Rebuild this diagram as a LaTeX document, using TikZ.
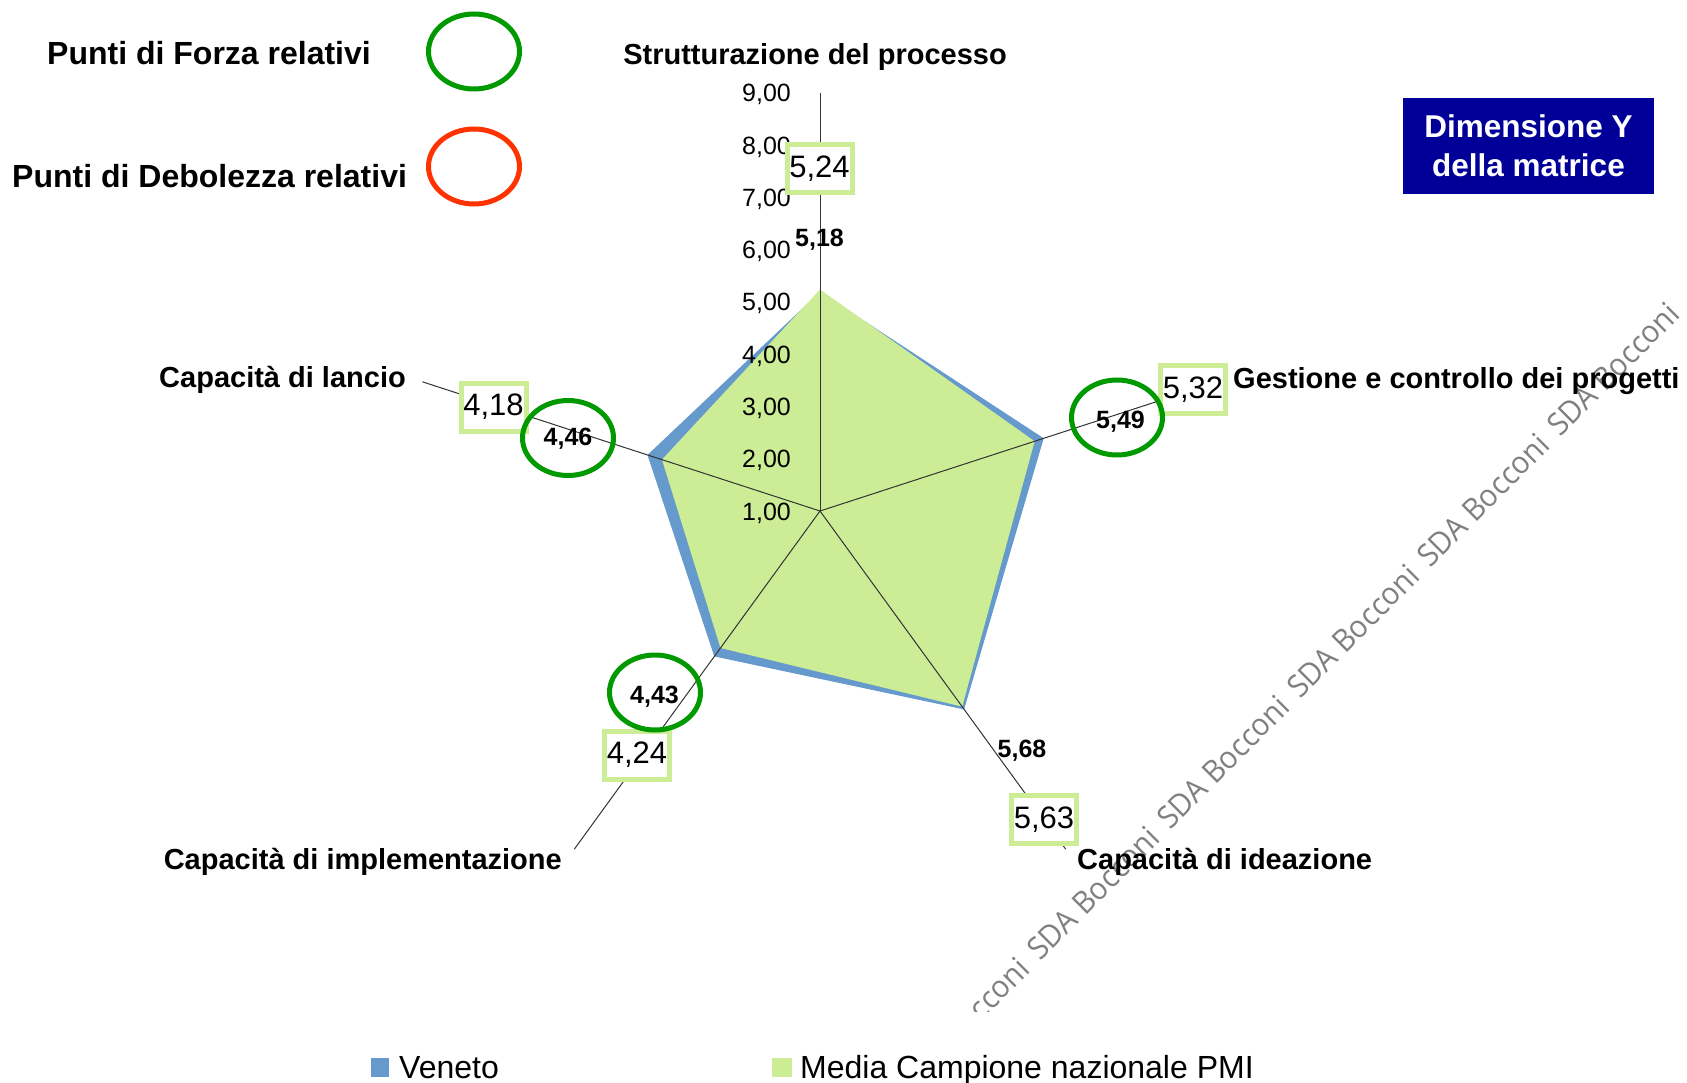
\documentclass[tikz,border=0pt]{standalone}
\usepackage{fontspec}
\setmainfont{Liberation Sans}
\newfontfamily\wmfont{Open Sans}
\usetikzlibrary{shapes.geometric}
\definecolor{vblue}{RGB}{102,153,204}
\definecolor{mgreen}{RGB}{205,236,150}
\definecolor{okgreen}{RGB}{0,153,0}
\definecolor{badred}{RGB}{255,51,0}
\definecolor{navybox}{RGB}{0,0,153}
\newcommand\fsz[2]{\fontsize{#1}{#2}\selectfont}
\begin{document}
\begin{tikzpicture}[x=1pt,y=-1pt,
  axislabel/.style={font=\fsz{29}{35}\bfseries, inner sep=0},
  ticklabel/.style={font=\fsz{25}{30}, inner sep=0, anchor=base east},
  mbox/.style={draw=mgreen, line width=5pt, fill=white, minimum width=65pt, minimum height=48pt, inner sep=0, font=\fsz{31}{37}},
  vlabel/.style={font=\fsz{25}{30}\bfseries, inner sep=0},
  ring/.style={ellipse, draw=okgreen, line width=5pt, minimum width=91pt, minimum height=75pt, inner sep=0},
  wm/.style={font=\wmfont\fsz{31}{36}, text=black!50, rotate=45, xscale=0.95, inner sep=0},
  axisline/.style={draw=black!80, line width=1pt},
  legtext/.style={font=\fsz{32}{38}\bfseries, inner sep=0, anchor=base west},
  bottext/.style={font=\fsz{32}{38}, inner sep=0, anchor=base west},
  square/.style={minimum width=18pt, minimum height=19pt, inner sep=0}
]
\useasboundingbox (0,0) rectangle (1687,1083);
\fill[white] (0,0) rectangle (1687,1083);

% watermark
\begin{scope}
\clip (0,0) rectangle (1687,1011);
\foreach \k [count=\i] in {-1,...,4}
  \node[wm] (w\i) at ({1093+130*\k},{893-131*\k}) {SDA Bocconi};
\end{scope}

% radar chart
\begin{scope}[shift={(820,511)}, y=1pt]
  \coordinate (O) at (0,0);
  \coordinate (A1) at (90:418);
  \coordinate (A2) at (18:418);
  \coordinate (A3) at (-54:418);
  \coordinate (A4) at (-126:418);
  \coordinate (A5) at (162:418);
  \filldraw[fill=vblue, draw=vblue, line width=1pt, line join=round]
    (90:218.4) -- (18:234.6) -- (-54:244.5) -- (-126:179.2) -- (162:180.8) -- cycle;
  \fill[mgreen]
    (90:221.5) -- (18:225.7) -- (-54:241.9) -- (-126:169.3) -- (162:166.2) -- cycle;
  \foreach \a in {A1,A2,A3,A4,A5}
    \draw[axisline] (O) -- (\a);
\end{scope}

% tick labels
\foreach \v/\t in {1/{1,00},2/{2,00},3/{3,00},4/{4,00},5/{5,00},6/{6,00},7/{7,00},8/{8,00},9/{9,00}}
  \node[ticklabel] (t\v) at (791,{511-(\v-1)*52.25+9}) {\t};

% Media labels
\node[mbox] (m1) at (819.5,168.5) {5,24};
\node[mbox] (m2) at (1193,389.5) {5,32};
\node[mbox] (m3) at (1044,819.5) {5,63};
\node[mbox] (m4) at (637,755) {4,24};
\node[mbox] (m5) at (493.5,407) {4,18};

% rings
\node[ring] (r2) at (1117,417.5) {};
\node[ring] (r4) at (655,692.5) {};
\node[ring] (r5) at (568,438) {};

% Veneto labels
\node[vlabel] (v1) at (819.5,239.5) {5,18};
\node[vlabel] (v2) at (1120.5,421.5) {5,49};
\node[vlabel] (v3) at (1022,750.5) {5,68};
\node[vlabel] (v4) at (654.5,697) {4,43};
\node[vlabel] (v5) at (568,438.5) {4,46};

% axis labels
\node[axislabel, anchor=base] (c1) at (815,64.4) {Strutturazione del processo};
\node[axislabel, anchor=base west] (c2) at (1233,388.4) {Gestione e controllo dei progetti};
\node[axislabel, anchor=base west] (c3) at (1077,869.4) {Capacità di ideazione};
\node[axislabel, anchor=base east] (c4) at (562,869.4) {Capacità di implementazione};
\node[axislabel, anchor=base east] (c5) at (406,387.4) {Capacità di lancio};

% top-left legend
\node[legtext] (lt1) at (47,64.5) {Punti di Forza relativi};
\node[legtext] (lt2) at (12,187.5) {Punti di Debolezza relativi};
\node[ring] (lg1) at (474,51.5) {};
\node[ring, draw=badred] (lg2) at (474,166.5) {};

% dimension box
\node[fill=navybox, minimum width=251pt, minimum height=96pt, inner sep=0,
      text=white, align=center, font=\fsz{31.5}{39}\bfseries] (dim) at (1528.5,146)
      {Dimensione Y\\della matrice};

% bottom legend
\node[square, fill=vblue] (sq1) at (380,1067.5) {};
\node[bottext] (lv) at (399,1078) {Veneto};
\node[square, fill=mgreen, minimum width=20pt] (sq2) at (782,1067.5) {};
\node[bottext] (lm) at (800,1078) {Media Campione nazionale PMI};
\end{tikzpicture}
\end{document}
